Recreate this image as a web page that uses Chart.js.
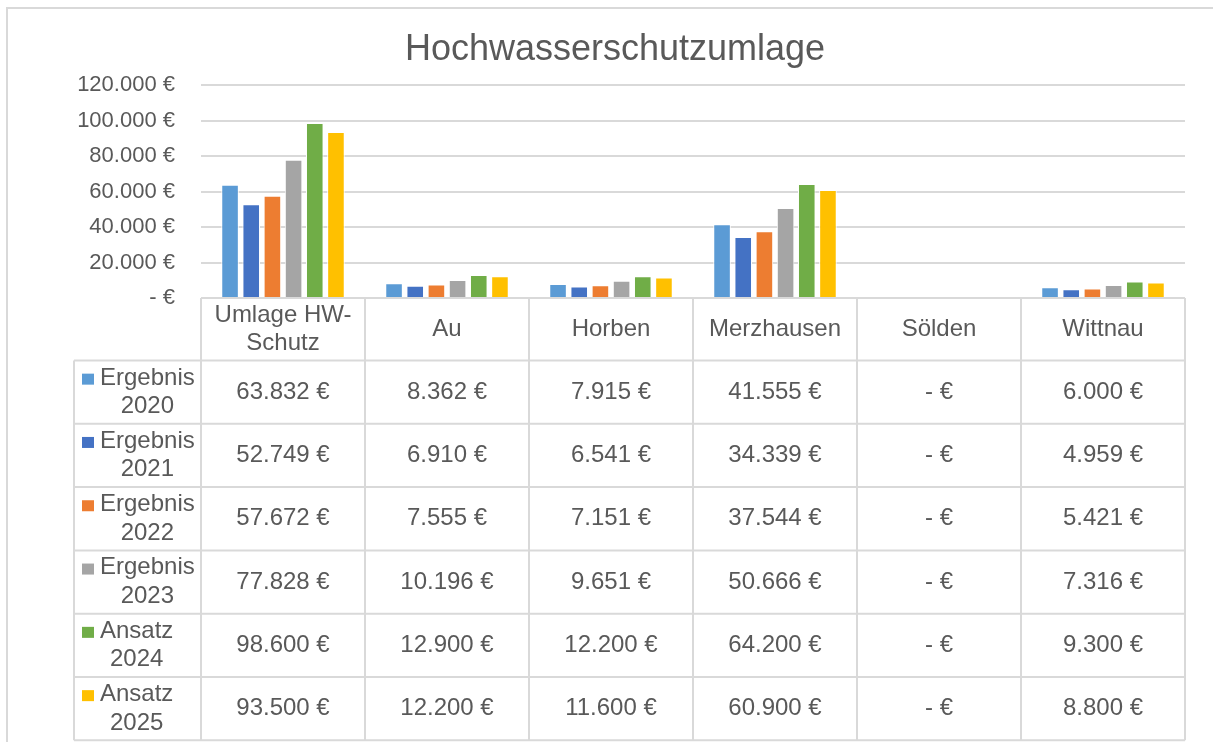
<!DOCTYPE html>
<html>
<head>
<meta charset="utf-8">
<title>Hochwasserschutzumlage</title>
<script src="https://cdn.jsdelivr.net/npm/chart.js@4.4.1/dist/chart.umd.min.js"></script>
<style>
    html, body { margin: 0; padding: 0; background: #fff; }
    canvas { display: block; }
</style>
</head>
<body>
<canvas id="hwChart" width="1213" height="742"></canvas>
<script>
// Kategorien (Spaltenköpfe der Datentabelle)
const categories = [['Umlage HW-', 'Schutz'], 'Au', 'Horben', 'Merzhausen', 'Sölden', 'Wittnau'];

// Datenreihen
const seriesNames = ['Ergebnis 2020', 'Ergebnis 2021', 'Ergebnis 2022', 'Ergebnis 2023', 'Ansatz 2024', 'Ansatz 2025'];
const ergebnis2020 = [63832, 8362, 7915, 41555, 0, 6000];
const ergebnis2021 = [52749, 6910, 6541, 34339, 0, 4959];
const ergebnis2022 = [57672, 7555, 7151, 37544, 0, 5421];
const ergebnis2023 = [77828, 10196, 9651, 50666, 0, 7316];
const ansatz2024 = [98600, 12900, 12200, 64200, 0, 9300];
const ansatz2025 = [93500, 12200, 11600, 60900, 0, 8800];

// Achse
const yTicks = [0, 20000, 40000, 60000, 80000, 100000, 120000];

const chartTitle = 'Hochwasserschutzumlage';
const seriesColors = ['#5B9BD5', '#4472C4', '#ED7D31', '#A5A5A5', '#70AD47', '#FFC000'];
const textColor = '#595959';
const lineColor = '#D9D9D9';
const fontFamily = '"Liberation Sans", Arial, sans-serif';

function euro(v) {
    if (v === 0) return '- €';
    return String(v).replace(/\B(?=(\d{3})+(?!\d))/g, '.') + ' €';
}

const allSeries = [ergebnis2020, ergebnis2021, ergebnis2022, ergebnis2023, ansatz2024, ansatz2025];

// Rahmen, Titel und Datentabelle unter dem Diagramm
const dataTablePlugin = {
    id: 'dataTable',
    beforeDraw(chart) {
        const ctx = chart.ctx;
        ctx.save();
        ctx.fillStyle = '#fff';
        ctx.fillRect(0, 0, chart.width, chart.height);
        ctx.strokeStyle = lineColor;
        ctx.lineWidth = 2;
        ctx.beginPath();
        ctx.moveTo(7, chart.height);
        ctx.lineTo(7, 8);
        ctx.lineTo(chart.width, 8);
        ctx.stroke();

        // Titel
        ctx.fillStyle = textColor;
        ctx.font = '36px ' + fontFamily;
        ctx.textAlign = 'center';
        ctx.textBaseline = 'middle';
        ctx.fillText(chartTitle, 615, 50);
        ctx.restore();
    },
    afterDraw(chart) {
        const { ctx, chartArea } = chart;
        const x = chart.scales.x;
        const n = categories.length;
        const colW = (x.right - x.left) / n;
        const top = chartArea.bottom;
        const headH = 62.5;
        const rowH = 63.3;
        const labelLeft = 74;
        const bottom = top + headH + rowH * seriesNames.length;

        ctx.save();
        ctx.strokeStyle = lineColor;
        ctx.lineWidth = 2;
        ctx.beginPath();
        // senkrechte Linien der Wertespalten
        for (let i = 0; i <= n; i++) {
            const px = x.left + i * colW;
            ctx.moveTo(px, top);
            ctx.lineTo(px, bottom);
        }
        // linke Kante der Legendenspalte
        ctx.moveTo(labelLeft, top + headH);
        ctx.lineTo(labelLeft, bottom);
        // waagrechte Linien
        for (let r = 0; r <= seriesNames.length; r++) {
            const py = top + headH + r * rowH;
            ctx.moveTo(labelLeft, py);
            ctx.lineTo(x.right, py);
        }
        ctx.stroke();

        ctx.fillStyle = textColor;
        ctx.font = '24px ' + fontFamily;
        ctx.textAlign = 'center';
        ctx.textBaseline = 'middle';

        // Kopfzeile
        categories.forEach((cat, i) => {
            const cx = x.getPixelForValue(i);
            const lines = Array.isArray(cat) ? cat : [cat];
            const cy = top + headH / 2;
            lines.forEach((l, k) => {
                ctx.fillText(l, cx, cy + (k - (lines.length - 1) / 2) * 28.5);
            });
        });

        // Zeilen mit Legendensymbol
        seriesNames.forEach((name, r) => {
            const cy = top + headH + r * rowH + rowH / 2;
            const lines = name.split(' ');
            const w = Math.max(...lines.map(l => ctx.measureText(l).width));
            const tx = 100 + w / 2;
            ctx.fillStyle = seriesColors[r];
            ctx.fillRect(82, cy - 18.5, 12, 11);
            ctx.fillStyle = textColor;
            lines.forEach((l, k) => {
                ctx.fillText(l, tx, cy + (k - (lines.length - 1) / 2) * 28.5);
            });
            allSeries[r].forEach((v, i) => {
                ctx.fillText(euro(v), x.getPixelForValue(i), cy);
            });
        });
        ctx.restore();
    }
};

const ctx = document.getElementById('hwChart').getContext('2d');

const hwChart = new Chart(ctx, {
    type: 'bar',
    data: {
        labels: categories,
        datasets: seriesNames.map((name, i) => ({
            label: name,
            data: allSeries[i],
            backgroundColor: seriesColors[i],
            borderColor: '#ffffff',
            borderWidth: 1,
            categoryPercentage: 0.775,
            barPercentage: 0.83
        }))
    },
    options: {
        responsive: false,
        animation: false,
        devicePixelRatio: 1,
        layout: {
            padding: { left: 7, right: 28, top: 85, bottom: 444 }
        },
        plugins: {
            legend: { display: false },
            tooltip: { enabled: false },
            title: { display: false }
        },
        scales: {
            x: {
                display: false
            },
            y: {
                min: 0,
                max: 120000,
                afterFit(scale) { scale.width = 194; },
                afterBuildTicks(scale) { scale.ticks = yTicks.map(v => ({ value: v })); },
                border: { display: false },
                grid: { color: lineColor, lineWidth: 2, drawTicks: false },
                ticks: {
                    color: textColor,
                    padding: 26,
                    font: { family: fontFamily, size: 22 },
                    callback: v => euro(v)
                }
            }
        }
    },
    plugins: [dataTablePlugin]
});
</script>
</body>
</html>
